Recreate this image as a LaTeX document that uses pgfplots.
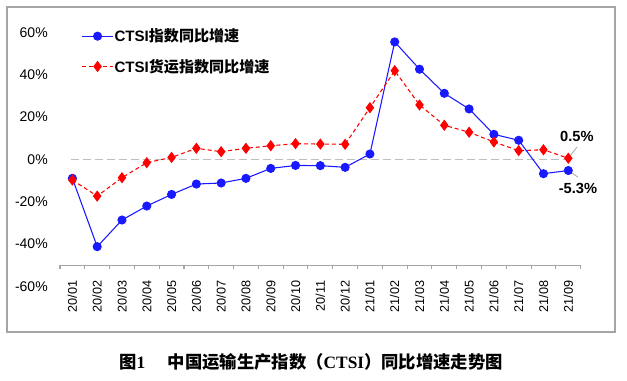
\documentclass[border=0pt]{standalone}
\usepackage{pgfplots}
\pgfplotsset{compat=1.18}
\usepackage{fontspec}
\setmainfont{Liberation Sans}
\newfontfamily\cjk{Noto Sans CJK SC}
\newfontfamily\serif{Liberation Serif}
\definecolor{ctsiblue}{RGB}{25,25,255}
\definecolor{ctsired}{RGB}{255,0,0}
\definecolor{framegray}{RGB}{165,165,165}
\definecolor{zerogray}{RGB}{190,190,190}
\pgfplotstableread{
x blue red
0 -9.0 -9.8
1 -41.3 -17.4
2 -28.7 -8.7
3 -22.1 -1.6
4 -16.6 0.9
5 -11.7 5.2
6 -11.2 3.6
7 -9.0 5.2
8 -4.3 6.4
9 -2.9 7.4
10 -3.0 7.2
11 -3.8 7.1
12 2.5 24.4
13 55.5 41.9
14 42.6 25.7
15 31.2 16.1
16 23.8 12.8
17 11.8 8.2
18 9.0 4.1
19 -6.8 4.5
20 -5.3 0.5
}\datatable
\begin{document}
\begin{tikzpicture}[x=1pt,y=1pt]
\useasboundingbox (0,0) rectangle (470.25,285);
\draw[framegray, line width=0.9pt] (5.25,36) rectangle (461.25,279.75);
\begin{axis}[
 at={(45pt,70.35pt)}, anchor=south west,
 width=390.5pt, height=190.35pt, scale only axis,
 xmin=-0.5, xmax=20.5, ymin=-60, ymax=60,
 axis line style={draw=none},
 xtick={0,...,20},
 xticklabels={20/01,20/02,20/03,20/04,20/05,20/06,20/07,20/08,20/09,20/10,20/11,20/12,21/01,21/02,21/03,21/04,21/05,21/06,21/07,21/08,21/09},
 major tick length=0pt,
 ytick={-60,-40,...,60},
 yticklabels={-60\%,-40\%,-20\%,0\%,20\%,40\%,60\%},
 yticklabel style={font=\fontsize{10.5}{12}\selectfont, anchor=east, inner sep=0pt, xshift=-9pt},
 xticklabel style={font=\fontsize{9.5}{11}\selectfont, rotate=90, anchor=east, inner sep=0pt},
 xticklabel shift=-4.5pt,
 clip=false,
 legend cell align=left,
 legend style={at={(axis cs:0.37,62.5)}, anchor=north west, draw=none, fill=none, inner sep=0pt,
   font=\bfseries\fontsize{11.3}{13}\selectfont, row sep=9.5pt,
   nodes={inner sep=1pt},
   /tikz/every even column/.append style={column sep=3pt}},
 legend image code/.code={\draw[mark repeat=2,mark phase=2] plot coordinates {(0cm,0cm) (0.4cm,0cm) (0.8cm,0cm)};},
]
\addplot[zerogray, line width=0.9pt, dash pattern=on 6pt off 3pt, forget plot] coordinates {(-0.05,0) (20,0)};
\pgfplotsforeachungrouped \t in {-0.5,0.5,...,20.5}{%
  \edef\temp{\noexpand\draw[framegray, line width=0.8pt] (axis cs:\t,-50) -- (axis cs:\t,-51.9);}\temp}
\draw[framegray, line width=0.8pt] (axis cs:-0.5,-50) -- (axis cs:20.5,-50);
\addplot[ctsiblue, line width=0.8pt, mark=*, mark size=3pt, mark options={solid, fill=ctsiblue}] table[x=x,y=blue]{\datatable};
\addlegendentry{CTSI{\cjk\bfseries 指数同比增速}}
\addplot[ctsired, line width=0.8pt, dash pattern=on 3pt off 2.2pt, mark=diamond*, mark size=3.6pt, mark options={solid, fill=ctsired}] table[x=x,y=red]{\datatable};
\addlegendentry{CTSI{\cjk\bfseries 货运指数同比增速}}
\draw[framegray, line width=0.6pt] (axis cs:20,0.5) -- (axis cs:20.35,5.8);
\draw[framegray, line width=0.6pt] (axis cs:20,-5.3) -- (axis cs:20.39,-8.4);
\node[font=\bfseries\fontsize{11}{13}\selectfont] at (axis cs:20.35,11) {0.5\%};
\node[font=\bfseries\fontsize{11}{13}\selectfont] at (axis cs:20.39,-14) {-5.3\%};
\end{axis}
\node at (233.25,13.5) {\fontsize{13}{15}\selectfont\bfseries{\cjk\bfseries 图}{\serif\bfseries 1}\hspace{1.3em}{\cjk\bfseries 中国运输生产指数（}{\serif\bfseries CTSI}{\cjk\bfseries ）同比增速走势图}};
\end{tikzpicture}
\end{document}
